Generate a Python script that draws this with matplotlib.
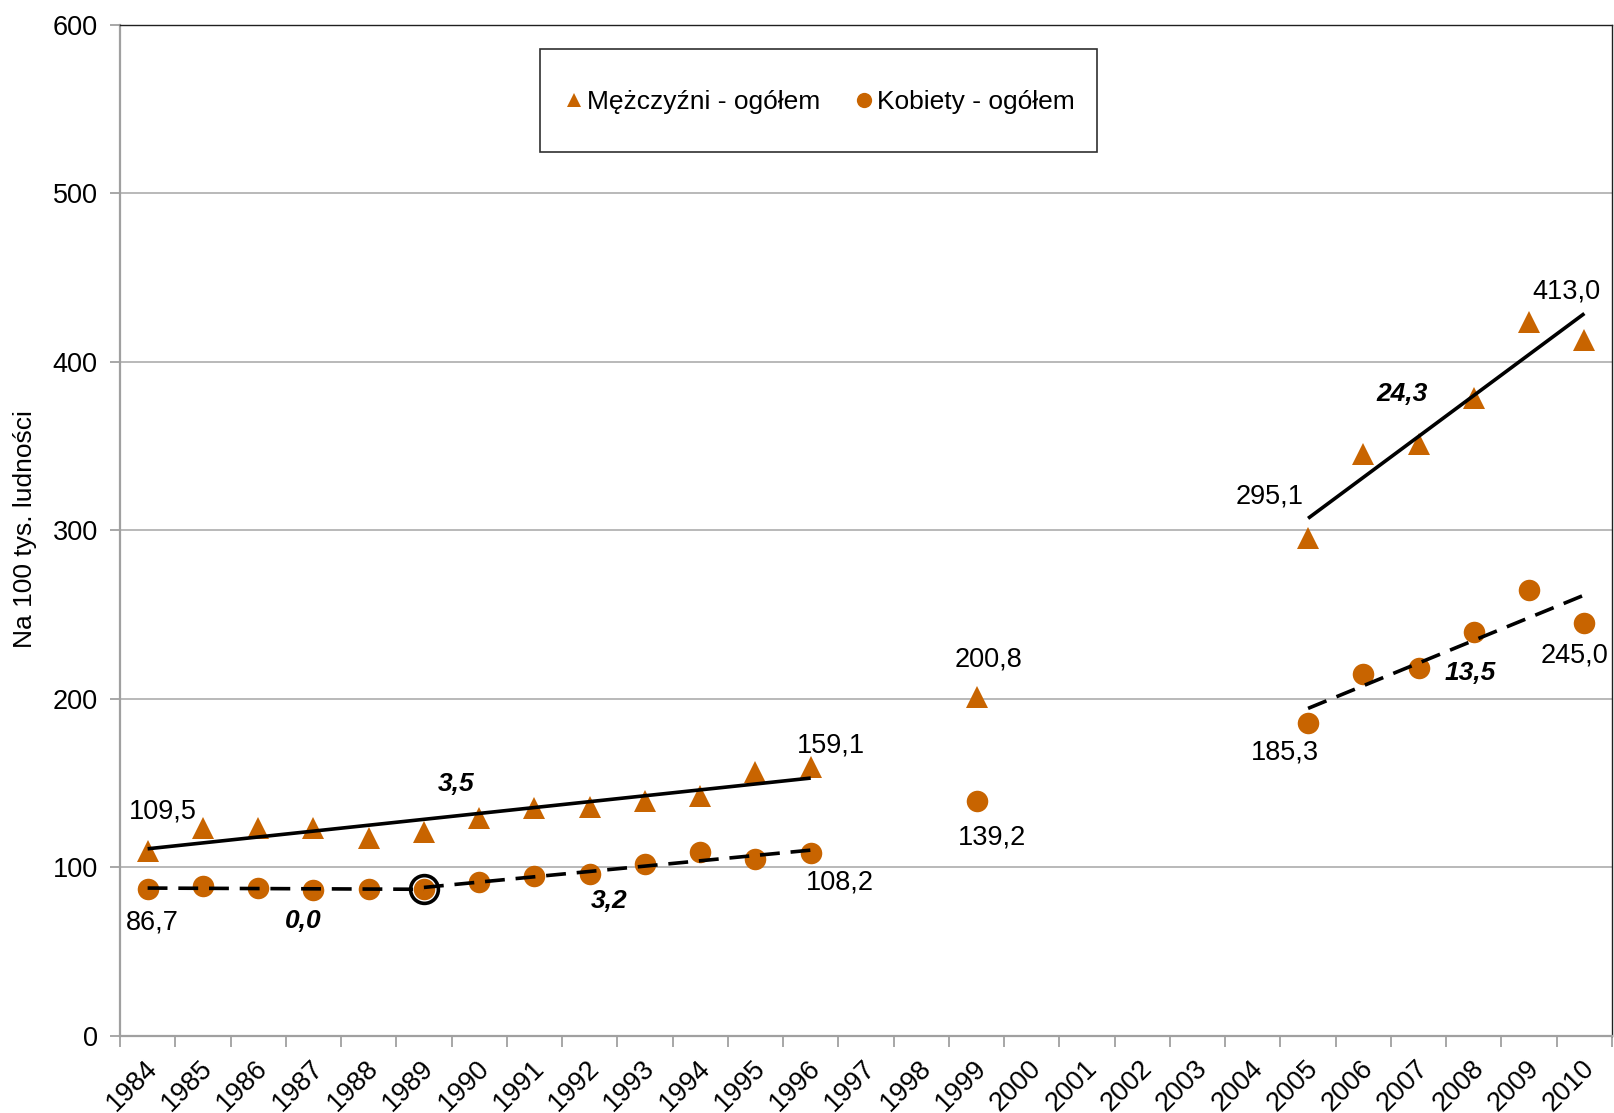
import numpy as np
import matplotlib
matplotlib.use("Agg")
import matplotlib.pyplot as plt
from matplotlib.lines import Line2D
from matplotlib.patches import Rectangle

plt.rcParams['font.family'] = ['Liberation Sans', 'DejaVu Sans']

# ---------------- data ----------------
years = [str(y) for y in range(1984, 2011)]
nan = np.nan
men = [109.5, 123.0, 123.4, 123.4, 117.4, 120.8, 128.9, 135.0, 135.4, 139.4, 142.1, 156.2, 159.1,
       nan, nan, 200.8, nan, nan, nan, nan, nan,
       295.1, 345.2, 351.3, 378.7, 423.3, 413.0]
women = [86.7, 88.5, 87.5, 86.4, 87.0, 86.8, 91.1, 94.5, 96.0, 101.8, 108.7, 104.6, 108.2,
         nan, nan, 139.2, nan, nan, nan, nan, nan,
         185.3, 214.4, 217.9, 239.6, 264.7, 245.0]
men_label = "Mężczyźni - ogółem"
women_label = "Kobiety - ogółem"
y_label = "Na 100 tys. ludności"

# trend segments (first year, last year)
men_trends = [("1984", "1996"), ("2005", "2010")]
women_trends = [("1984", "1989"), ("1989", "1996"), ("2005", "2010")]
slope_texts = ["3,5", "0,0", "3,2", "24,3", "13,5"]

# labelled points
men_labelled = ["1984", "1996", "1999", "2005", "2010"]
women_labelled = ["1984", "1996", "1999", "2005", "2010"]

# ---------------- figure ----------------
W, H = 1614, 1113
fig = plt.figure(figsize=(W / 100, H / 100), dpi=100)
ax = fig.add_axes([120 / W, 1 - 1035.5 / H, (1612 - 120) / W, (1035.5 - 24.7) / H])

color = '#C86400'
FS = 19.5
x = np.arange(len(years))
men_a = np.array(men)
women_a = np.array(women)

ax.plot(x, men_a, linestyle='none', marker='^', markersize=16, color=color,
        markeredgewidth=0, zorder=3)
ax.plot(x, women_a, linestyle='none', marker='o', markersize=15.5, color=color,
        markeredgewidth=0, zorder=3)

# highlight ring at the break point
bi = years.index("1989")
ax.plot([x[bi]], [women_a[bi]], linestyle='none', marker='o', markersize=20,
        markerfacecolor='none', markeredgecolor='black', markeredgewidth=2.6, zorder=2)


def trend(series, a, b, **kw):
    i0, i1 = years.index(a), years.index(b)
    xs = x[i0:i1 + 1]
    ys = series[i0:i1 + 1]
    m = ~np.isnan(ys)
    k, c = np.polyfit(xs[m], ys[m], 1)
    ax.plot([xs[0], xs[-1]], [k * xs[0] + c, k * xs[-1] + c], color='black',
            lw=2.6, zorder=4, solid_capstyle='butt', **kw)


for a, b in men_trends:
    trend(men_a, a, b, linestyle='-')
for a, b in women_trends:
    trend(women_a, a, b, linestyle=(0, (5.5, 3.0)))

# data labels (pixel offsets)
men_off = {"1984": (15, 40), "1996": (20, 22), "1999": (12, 38), "2005": (-38, 42), "2010": (-18, 48)}
women_off = {"1984": (5, -33), "1996": (29, -29), "1999": (15, -37), "2005": (-23, -29), "2010": (-10, -33)}
for yr in men_labelled:
    i = years.index(yr)
    ax.annotate(f"{men_a[i]:.1f}".replace('.', ','), (x[i], men_a[i]), xytext=men_off[yr],
                textcoords='offset pixels', ha='center', va='center', fontsize=FS, zorder=5)
for yr in women_labelled:
    i = years.index(yr)
    ax.annotate(f"{women_a[i]:.1f}".replace('.', ','), (x[i], women_a[i]), xytext=women_off[yr],
                textcoords='offset pixels', ha='center', va='center', fontsize=FS, zorder=5)

# slope labels
slope_pos = [(5.58, 149.3), (2.81, 67.9), (8.35, 79.8), (22.70, 380.7), (23.93, 215.1)]
for t, (px, py) in zip(slope_texts, slope_pos):
    ax.text(px, py, t, fontsize=19, fontweight='bold', fontstyle='italic',
            ha='center', va='center', zorder=5)

# axes styling
ax.set_xlim(-0.5, len(years) - 0.5)
ax.set_ylim(0, 600)
ax.set_yticks(range(0, 601, 100))
ax.tick_params(axis='y', labelsize=FS, length=7, width=1.3, color='#A0A0A0', pad=9)
ax.yaxis.grid(True, color='#A6A6A6', lw=1.1)
ax.set_axisbelow(True)

ax.set_xticks(np.arange(len(years) + 1) - 0.5)
ax.set_xticklabels([])
ax.tick_params(axis='x', which='major', length=8, width=1.3, color='#A0A0A0')
ax.set_xticks(x - 0.06, minor=True)
ax.set_xticklabels(years, minor=True, rotation=45, ha='right', va='top',
                   rotation_mode='anchor', fontsize=FS)
ax.tick_params(axis='x', which='minor', length=0, pad=14)

for s in ['left', 'bottom']:
    ax.spines[s].set_color('#A0A0A0')
    ax.spines[s].set_linewidth(1.6)
for s in ['top', 'right']:
    ax.spines[s].set_color('#202020')
    ax.spines[s].set_linewidth(1.0)

fig.text(25 / W, 1 - 529 / H, y_label, rotation=90, ha='center', va='center', fontsize=19)

# legend
fig.patches.append(Rectangle((540 / W, 1 - 152 / H), 557 / W, 103 / H,
                             transform=fig.transFigure, facecolor='white',
                             edgecolor='#303030', lw=1.2, zorder=10))
handles = [Line2D([], [], linestyle='none', marker='^', markersize=10.5, color=color, markeredgewidth=0),
           Line2D([], [], linestyle='none', marker='o', markersize=11, color=color, markeredgewidth=0)]
leg = fig.legend(handles, [men_label, women_label], loc='center',
                 bbox_to_anchor=(820 / W, 1 - 102 / H), ncol=2, frameon=False,
                 fontsize=19, handlelength=0.7, handletextpad=0.15, columnspacing=1.3)
leg.set_zorder(11)

fig.savefig("out.png", dpi=100)
